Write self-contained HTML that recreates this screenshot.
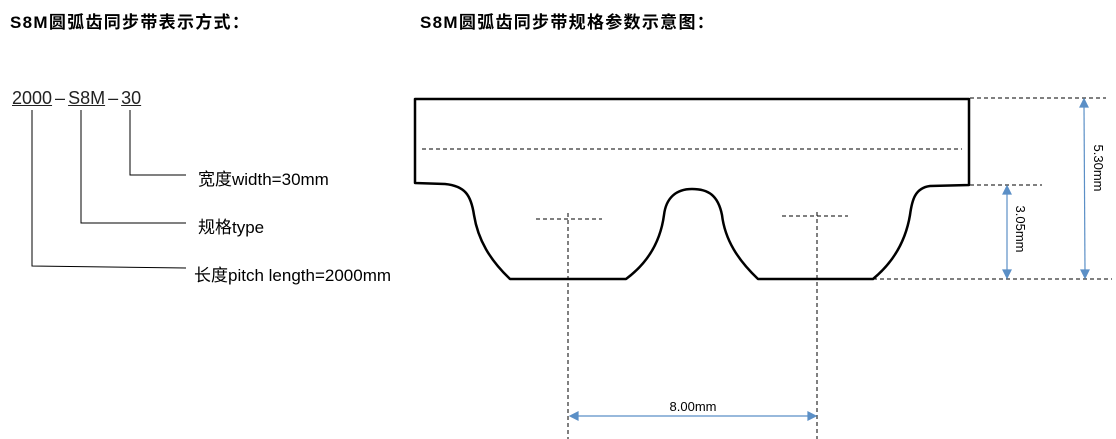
<!DOCTYPE html>
<html><head><meta charset="utf-8"><style>
body{margin:0;width:1116px;height:439px;background:#fff;overflow:hidden;position:relative;font-family:"Liberation Sans","Noto Sans CJK SC",sans-serif}
.t{position:absolute;white-space:nowrap}
</style></head><body>
<div class="t" style="left:10px;top:8px;font-size:17px;font-weight:bold;letter-spacing:1.3px">S8M圆弧齿同步带表示方式：</div>
<div class="t" style="left:420px;top:8px;font-size:17px;font-weight:bold;letter-spacing:1.3px">S8M圆弧齿同步带规格参数示意图：</div>
<div class="t" style="left:12px;top:88px;font-size:18px;color:#222"><u>2000</u><span style="margin:0 3px">–</span><u>S8M</u><span style="margin:0 3px">–</span><u>30</u></div>
<div class="t" style="left:198px;top:165px;font-size:17px">宽度width=30mm</div>
<div class="t" style="left:198px;top:213px;font-size:17px">规格type</div>
<div class="t" style="left:194px;top:261px;font-size:17px">长度pitch length=2000mm</div>
<svg width="1116" height="439" style="position:absolute;left:0;top:0">
<g stroke="#000" stroke-width="1" fill="none">
<polyline points="32,110 32,266 186,268"/>
<polyline points="81,110 81,223 186,223"/>
<polyline points="130,110 130,175 186,175"/>
</g>
<path d="M415,183 L415,99 L969,99 L969,185 L930,186 C915,188 912,200 910,215 C905,245 890,265 873,279 L758,279 C738,260 725,240 722,215 C718,195 708,189 692,189 C676,189 666,198 664,215 C660,245 645,265 626,279 L510,279 C490,260 478,240 474,215 C471,195 465,186 445,184 Z" fill="none" stroke="#000" stroke-width="2.5" stroke-linejoin="round"/>
<g stroke="#000" stroke-width="1" stroke-dasharray="4,3" fill="none">
<line x1="422" y1="149" x2="962" y2="149"/>
<line x1="536" y1="219" x2="602" y2="219"/>
<line x1="782" y1="216" x2="848" y2="216"/>
<line x1="568" y1="213" x2="568" y2="439"/>
<line x1="817" y1="212" x2="817" y2="439"/>
<line x1="970" y1="98" x2="1106" y2="98"/>
<line x1="970" y1="185" x2="1042" y2="185"/>
<line x1="873" y1="279" x2="1112" y2="279"/>
</g>
<g stroke="#5b8fc6" stroke-width="1.2" fill="#5b8fc6">
<line x1="1007" y1="192" x2="1007" y2="272"/>
<polygon points="1007,186 1003,194 1011,194"/><polygon points="1007,278 1003,270 1011,270"/>
<line x1="1084" y1="106" x2="1085" y2="272"/>
<polygon points="1084,99 1080,107 1088,107"/><polygon points="1085,278 1081,270 1089,270"/>
<line x1="576" y1="416" x2="810" y2="416"/>
<polygon points="570,416 578,412 578,420"/><polygon points="816,416 808,412 808,420"/>
</g>
<text x="1098" y="168" font-size="13" font-family="Liberation Sans" text-anchor="middle" transform="rotate(90 1098 168)" dy="4">5.30mm</text>
<text x="1020" y="229" font-size="13" font-family="Liberation Sans" text-anchor="middle" transform="rotate(90 1020 229)" dy="4">3.05mm</text>
<text x="693" y="411" font-size="13" font-family="Liberation Sans" text-anchor="middle">8.00mm</text>
</svg>
</body></html>
